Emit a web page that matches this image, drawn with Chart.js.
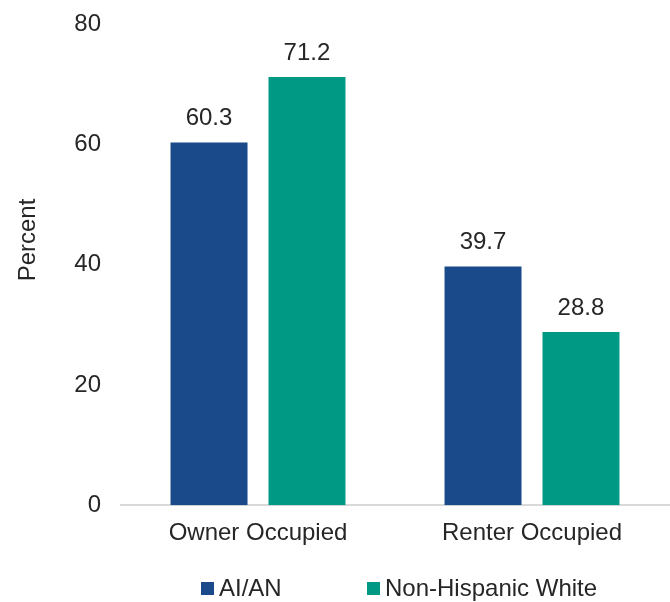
<!DOCTYPE html>
<html>
<head>
<meta charset="utf-8">
<script src="https://cdn.jsdelivr.net/npm/chart.js@4"></script>
<style>
html,body{margin:0;padding:0;background:#fff;}
#wrap{width:670px;height:602px;position:relative;}
</style>
</head>
<body>
<div id="wrap"><canvas id="c" width="670" height="602"></canvas></div>
<script>
const categories = ["Owner Occupied", "Renter Occupied"];
const seriesNames = ["AI/AN", "Non-Hispanic White"];
const aianValues = [60.3, 39.7];
const nhwValues = [71.2, 28.8];
const yTicks = [0, 20, 40, 60, 80];
const yTitle = "Percent";

const FONT = "'Liberation Sans', Arial, sans-serif";
const TXT = "#262626";
const FS = 24;

const labelPlugin = {
  id: 'barLabels',
  afterDatasetsDraw(chart) {
    const ctx = chart.ctx;
    ctx.save();
    ctx.font = FS + "px " + FONT;
    ctx.fillStyle = TXT;
    ctx.textAlign = 'center';
    ctx.textBaseline = 'middle';
    chart.data.datasets.forEach((ds, i) => {
      chart.getDatasetMeta(i).data.forEach((bar, j) => {
        ctx.fillText(ds.data[j].toFixed(1), bar.x, bar.y - 24);
      });
    });
    ctx.restore();
  }
};

const legendPlugin = {
  id: 'customLegend',
  afterDraw(chart) {
    const ctx = chart.ctx;
    const xs = [201, 367];
    const y = 588;
    ctx.save();
    ctx.font = FS + "px " + FONT;
    ctx.textAlign = 'left';
    ctx.textBaseline = 'middle';
    chart.data.datasets.forEach((ds, i) => {
      ctx.fillStyle = ds.backgroundColor;
      ctx.fillRect(xs[i], y - 6, 13, 13);
      ctx.fillStyle = TXT;
      ctx.fillText(ds.label, xs[i] + 18, y + 1);
    });
    // y axis title
    ctx.translate(28, 240);
    ctx.rotate(-Math.PI / 2);
    ctx.textAlign = 'center';
    ctx.fillText(yTitle, 0, 0);
    ctx.restore();
  }
};

new Chart(document.getElementById('c'), {
  type: 'bar',
  data: {
    labels: categories,
    datasets: [
      { label: seriesNames[0], data: aianValues, backgroundColor: '#1A4A8A' },
      { label: seriesNames[1], data: nhwValues, backgroundColor: '#009A84' }
    ]
  },
  options: {
    responsive: false,
    animation: false,
    devicePixelRatio: 1,
    layout: { padding: { top: 24, right: 1, bottom: 40, left: 0 } },
    datasets: { bar: { categoryPercentage: 0.715, barPercentage: 0.786 } },
    scales: {
      x: {
        grid: { display: false, drawTicks: false },
        border: { display: true, color: '#D9D9D9', width: 2 },
        ticks: { font: { size: FS, family: FONT }, color: TXT, padding: 14 }
      },
      y: {
        min: 0, max: 80,
        afterBuildTicks(s) { s.ticks = yTicks.map(v => ({ value: v })); },
        afterFit(s) { s.width = 121; s.paddingTop = 0; },
        grid: { display: false, drawTicks: false },
        border: { display: false },
        ticks: { font: { size: FS, family: FONT }, color: TXT, padding: 20 },
        title: { display: false }
      }
    },
    plugins: {
      legend: { display: false },
      tooltip: { enabled: false }
    }
  },
  plugins: [labelPlugin, legendPlugin]
});
</script>
</body>
</html>
